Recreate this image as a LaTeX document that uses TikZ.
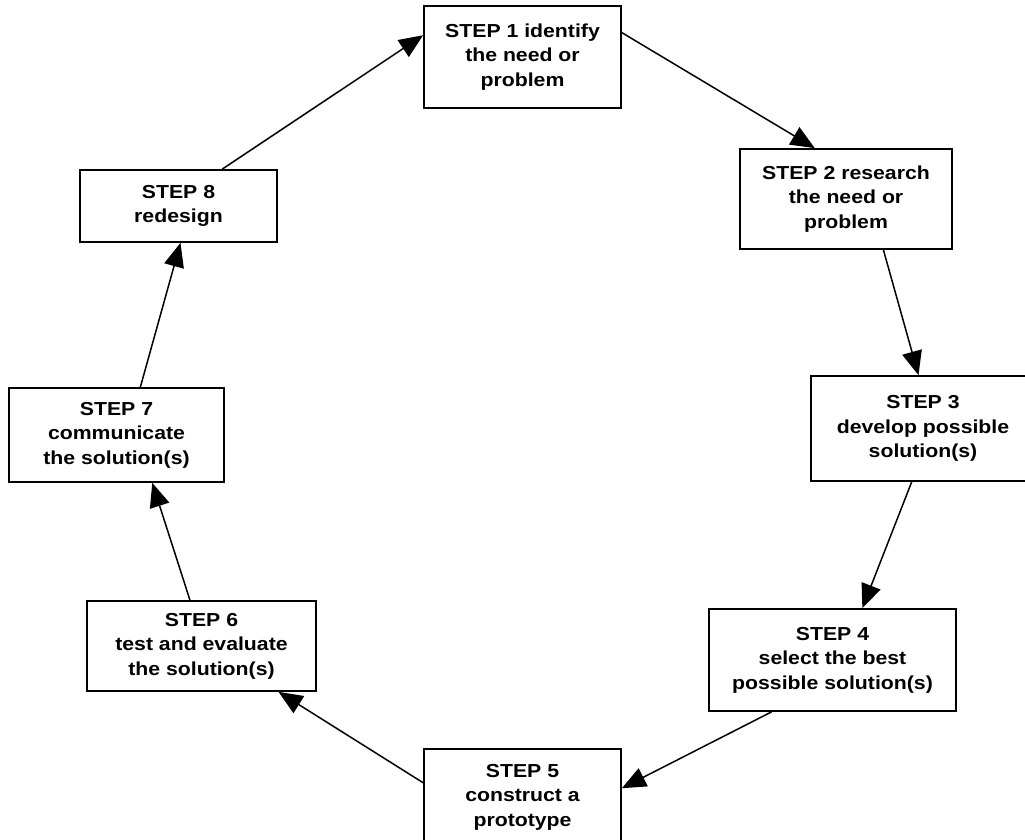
\documentclass[tikz,border=0pt]{standalone}
\usepackage{fontspec}
\setmainfont[FakeStretch=1.13]{Liberation Sans}
\usetikzlibrary{arrows.meta,calc}
\tikzset{
  stepbox/.style={draw=black, line width=1.7pt, fill=white, inner sep=0pt, align=center,
    font=\fontsize{18.8}{24.5}\selectfont\bfseries},
  flow/.style={line width=1.5pt, -{Triangle[length=24pt,width=20pt]}}
}
\begin{document}
\begin{tikzpicture}[x=1pt,y=-1pt]
\useasboundingbox (0,0) rectangle (1025,839);
\clip (0,0) rectangle (1025,839);
\node[stepbox, minimum width=197, minimum height=102] (s1) at (522.5,57) {STEP 1 identify\\the need or\\problem};
\node[stepbox, minimum width=212, minimum height=100] (s2) at (846,199) {STEP 2 research\\the need or\\problem};
\node[stepbox, minimum width=224, minimum height=105] (s3) at (923,428.5) {STEP 3\\develop possible\\solution(s)};
\node[stepbox, minimum width=247, minimum height=102] (s4) at (832.5,660) {STEP 4\\select the best\\possible solution(s)};
\node[stepbox, minimum width=197, minimum height=96] (s5) at (522.5,797) {STEP 5\\construct a\\prototype};
\node[stepbox, minimum width=229, minimum height=90] (s6) at (201.5,646) {STEP 6\\test and evaluate\\the solution(s)};
\node[stepbox, minimum width=215, minimum height=94] (s7) at (116.5,435) {STEP 7\\communicate\\the solution(s)};
\node[stepbox, minimum width=197, minimum height=72] (s8) at (178.5,206) {STEP 8\\redesign};

\draw[flow] ($(s8.north west)!0.72!(s8.north east)$) -- ($(s1.north west)!0.29!(s1.south west)$);
\draw[flow] ($(s1.north east)!0.265!(s1.south east)$) -- ($(s2.north west)!0.354!(s2.north east)$);
\draw[flow] ($(s2.south west)!0.675!(s2.south east)$) -- ($(s3.north west)!0.48!(s3.north east)$);
\draw[flow] ($(s3.south west)!0.45!(s3.south east)$) -- ($(s4.north west)!0.62!(s4.north east)$);
\draw[flow] ($(s4.south west)!0.255!(s4.south east)$) -- ($(s5.north east)!0.41!(s5.south east)$);
\draw[flow] ($(s5.north west)!0.354!(s5.south west)$) -- ($(s6.south west)!0.834!(s6.south east)$);
\draw[flow] ($(s6.north west)!0.45!(s6.north east)$) -- ($(s7.south west)!0.665!(s7.south east)$);
\draw[flow] ($(s7.north west)!0.61!(s7.north east)$) -- ($(s8.south west)!0.51!(s8.south east)$);
\end{tikzpicture}
\end{document}
